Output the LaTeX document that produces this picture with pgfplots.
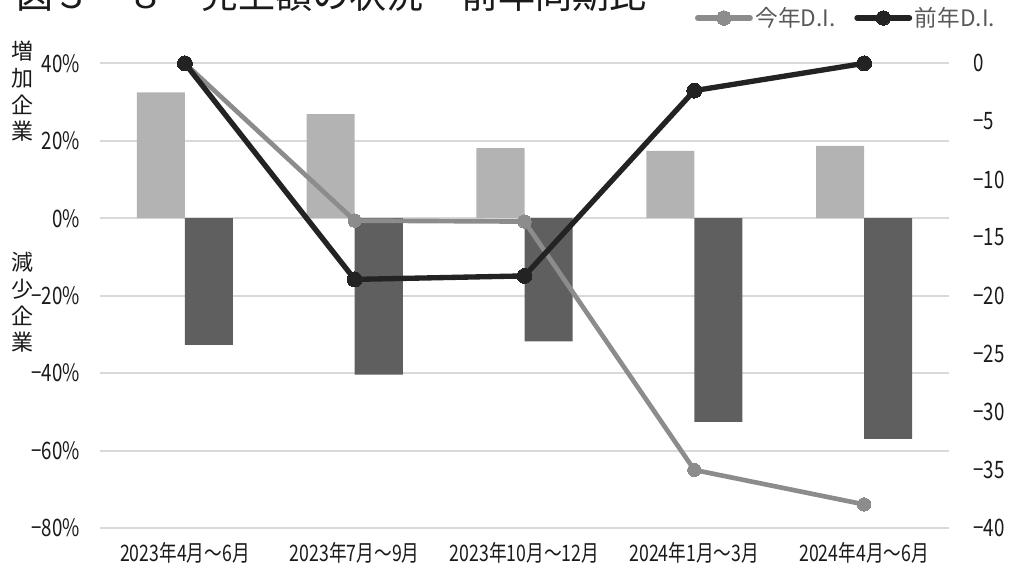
\documentclass[border=0pt]{standalone}
\usepackage{pgfplots}
\pgfplotsset{compat=1.18}
\usepackage{fontspec}
\setmainfont{Noto Sans CJK JP}
\newfontfamily\narrow{Noto Sans CJK JP}[FakeStretch=0.78]
\definecolor{barlight}{HTML}{B3B3B3}
\definecolor{bardark}{HTML}{5F5F5F}
\definecolor{linegray}{HTML}{8C8C8C}
\definecolor{lineblack}{HTML}{232323}
\definecolor{gridc}{HTML}{D9D9D9}
\definecolor{txt}{HTML}{1A1A1A}
\definecolor{legtxt}{HTML}{595959}
\begin{document}
\begin{tikzpicture}
\begin{axis}[
  at={(75pt,-396pt)}, anchor=south west,
  scale only axis, width=636.75pt, height=348.5pt,
  xmin=-0.5, xmax=4.5, ymin=-80, ymax=40,
  axis line style={draw=none}, major tick style={draw=none},
  ytick={-80,-60,-40,-20,0,20,40},
  yticklabels={−80\%,−60\%,−40\%,−20\%,0\%,20\%,40\%},
  xtick={0,1,2,3,4},
  xticklabels={2023年4月～6月,2023年7月～9月,2023年10月～12月,2024年1月～3月,2024年4月～6月},
  ymajorgrids, grid style={draw=gridc, line width=1.5pt},
  yticklabel style={font=\narrow\fontsize{18}{18}\selectfont, text=txt, anchor=east, inner sep=0pt, xshift=-15pt},
  xticklabel style={font=\narrow\fontsize{17}{17}\selectfont, text=txt, anchor=north, inner sep=0pt, yshift=-10.5pt},
  clip=false,
]
\addplot[ybar, bar width=0.283, bar shift=-0.1415, fill=barlight, draw=none] coordinates {(0,32.5)(1,26.9)(2,18.1)(3,17.4)(4,18.7)};
\addplot[ybar, bar width=0.283, bar shift=0.1415, fill=bardark, draw=none] coordinates {(0,-32.7)(1,-40.4)(2,-31.8)(3,-52.6)(4,-57.0)};
\end{axis}
\begin{axis}[
  at={(75pt,-396pt)}, anchor=south west,
  scale only axis, width=636.75pt, height=348.5pt,
  xmin=-0.5, xmax=4.5, ymin=-40, ymax=0,
  axis y line*=right, axis x line=none,
  axis line style={draw=none}, major tick style={draw=none},
  xtick=\empty,
  ytick={-40,-35,-30,-25,-20,-15,-10,-5,0},
  yticklabels={−40,−35,−30,−25,−20,−15,−10,−5,0},
  yticklabel style={font=\narrow\fontsize{18}{18}\selectfont, text=txt, anchor=west, inner sep=0pt, xshift=18pt},
  clip=false,
  legend columns=2,
  legend style={draw=none, fill=none, at={(1.0577,1.0975)}, anchor=east, inner sep=0pt,
    font=\fontsize{17}{17}\selectfont, text=legtxt,
    nodes={inner xsep=2pt, inner ysep=0pt},
    /tikz/every even column/.append style={column sep=12pt}},
  legend image code/.code={\draw[mark repeat=2,mark phase=2,#1, line width=4.2pt, line cap=round, mark size=5.4pt] plot coordinates {(1pt,0pt) (20.6pt,0pt) (40.2pt,0pt)};},
]
\addplot[color=linegray, line width=3.5pt, mark=*, mark size=5pt, mark options={line width=0pt, fill=linegray}] coordinates {(0,0)(1,-13.54)(2,-13.62)(3,-35.0)(4,-37.97)};
\addlegendentry{今年D.I.}
\addplot[color=lineblack, line width=4pt, mark=*, mark size=5.6pt, mark options={line width=0pt, fill=lineblack}] coordinates {(0,0)(1,-18.6)(2,-18.3)(3,-2.35)(4,0)};
\addlegendentry{前年D.I.}
\end{axis}
\node[anchor=base west, inner sep=0pt, text=txt, font=\fontsize{27.8}{27.8}\selectfont] at (12pt,-6.4pt) {図３－８　売上額の状況　前年同期比};
\node[align=center, inner sep=0pt, text=txt, font=\fontsize{16.5}{20}\selectfont] at (17.25pt,-68.6pt) {増\\加\\企\\業};
\node[align=center, inner sep=0pt, text=txt, font=\fontsize{16.5}{20}\selectfont] at (17.25pt,-226.9pt) {減\\少\\企\\業};
\pgfresetboundingbox
\path[use as bounding box] (0,0) rectangle (756.75pt,-424.5pt);
\end{tikzpicture}
\end{document}
